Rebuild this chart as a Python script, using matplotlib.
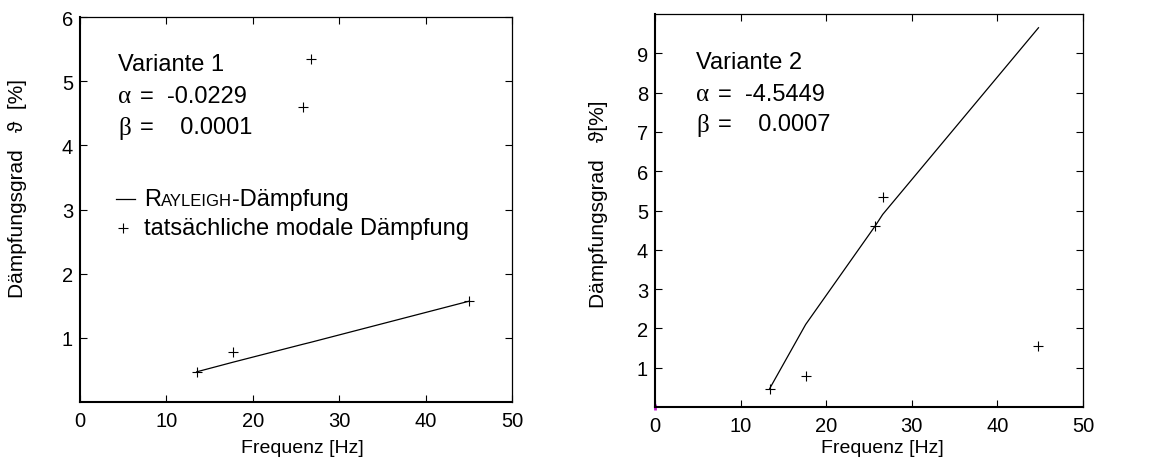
import matplotlib
matplotlib.use("Agg")
import matplotlib.pyplot as plt
from matplotlib.offsetbox import TextArea, HPacker, AnnotationBbox

plt.rcParams['font.family'] = ['Liberation Sans', 'DejaVu Sans']

# measured modal damping (same modes in both variants)
freq_1 = [13.5, 17.7, 25.8, 26.7, 45.0]
damp_1 = [0.47, 0.78, 4.60, 5.35, 1.57]
freq_2 = [13.4, 17.6, 25.7, 26.6, 44.8]
damp_2 = [0.47, 0.78, 4.60, 5.35, 1.55]

# Rayleigh damping evaluated at the modal frequencies
rayleigh_1 = [0.47, 0.62, 0.90, 0.93, 1.57]
rayleigh_2 = [0.47, 2.10, 4.60, 4.90, 9.65]

params_1 = ("Variante 1", "-0.0229", "0.0001")
params_2 = ("Variante 2", "-4.5449", "0.0007")

W, H = 1168, 460
fig = plt.figure(figsize=(W / 100, H / 100), dpi=100)


def px_axes(x0, y0, x1, y1):
    return fig.add_axes([x0 / W, 1 - y1 / H, (x1 - x0) / W, (y1 - y0) / H])


def style(ax, ymax, yticks):
    ax.set_xlim(0, 50)
    ax.set_ylim(0, ymax)
    ax.set_xticks([0, 10, 20, 30, 40, 50])
    ax.set_yticks(yticks)
    ax.tick_params(direction='in', top=True, right=True, length=5, width=0.8,
                   labelsize=14.5)
    ax.tick_params(axis='x', pad=6.5)
    ax.tick_params(axis='y', pad=5)
    for s in ax.spines.values():
        s.set_linewidth(0.9)
    ax.spines['left'].set_linewidth(1.5)
    ax.spines['bottom'].set_linewidth(1.5)


def params_text(ax, x, ys, p):
    name, a, b = p
    ax.text(x, ys[0], name, transform=ax.transAxes, fontsize=17, va='center')
    dx = 22 / ax.bbox.width
    ax.text(x, ys[1], "α", transform=ax.transAxes, fontsize=18,
            family=['Liberation Serif', 'DejaVu Serif'], va='center')
    ax.text(x + dx, ys[1], "=  " + a, transform=ax.transAxes, fontsize=17, va='center')
    ax.text(x, ys[2], "β", transform=ax.transAxes, fontsize=18,
            family=['Liberation Serif', 'DejaVu Serif'], va='center')
    ax.text(x + dx, ys[2], "=    " + b, transform=ax.transAxes, fontsize=17, va='center')


# left panel
ax1 = px_axes(80, 18, 512, 403)
ax1.plot(freq_1, rayleigh_1, color='black', lw=0.9)
ax1.plot(freq_1, damp_1, ls='none', marker='+', ms=7, mew=0.8, color='black')
style(ax1, 6, [1, 2, 3, 4, 5, 6])
params_text(ax1, 0.088, [0.878, 0.795, 0.714], params_1)

# hand-made legend with small caps "Rayleigh"
ax1.plot([0.083, 0.127], [0.527, 0.527], color='black', lw=0.9, transform=ax1.transAxes)
ax1.plot([0.100], [0.452], ls='none', marker='+', ms=7, mew=0.8, color='black',
         transform=ax1.transAxes)
sc = HPacker(children=[TextArea("R", textprops=dict(fontsize=17)),
                       TextArea("AYLEIGH", textprops=dict(fontsize=12)),
                       TextArea("-Dämpfung", textprops=dict(fontsize=17))],
             align='baseline', pad=0, sep=0)
ax1.add_artist(AnnotationBbox(sc, (0.148, 0.527), xycoords='axes fraction',
                              box_alignment=(0, 0.5), frameon=False, pad=0))
ax1.text(0.148, 0.452, "tatsächliche modale Dämpfung", transform=ax1.transAxes,
         fontsize=17, va='center')

# right panel
ax2 = px_axes(655, 15, 1083, 408)
ax2.plot(freq_2, rayleigh_2, color='black', lw=0.9)
ax2.plot(freq_2, damp_2, ls='none', marker='+', ms=7, mew=0.8, color='black')
ax2.plot([0], [0], ls='none', marker='|', ms=4, mew=2, color='#c020d0', clip_on=False)
style(ax2, 10, [1, 2, 3, 4, 5, 6, 7, 8, 9])
params_text(ax2, 0.096, [0.878, 0.796, 0.72], params_2)

# axis labels
lab_fam = ['Liberation Sans', 'DejaVu Sans']
fig.text(18 / W, 1 - 189 / H, "Dämpfungsgrad   ϑ  [%]", rotation=90, fontsize=15,
         ha='center', va='center', family=lab_fam)
fig.text(598 / W, 1 - 204 / H, "Dämpfungsgrad   ϑ[%]", rotation=90, fontsize=15,
         ha='center', va='center', family=lab_fam)
fig.text(302 / W, 1 - 449 / H, "Frequenz [Hz]", fontsize=14, ha='center', va='center')
fig.text(882 / W, 1 - 449 / H, "Frequenz [Hz]", fontsize=14, ha='center', va='center')

fig.savefig("out.png", dpi=100)
